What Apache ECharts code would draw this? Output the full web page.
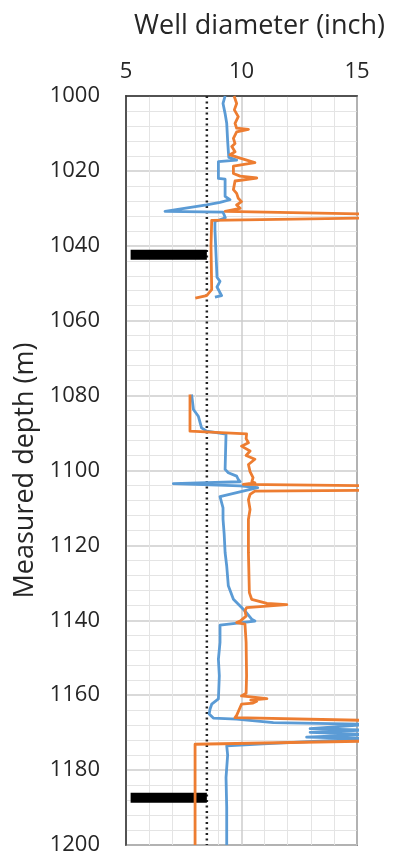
<!DOCTYPE html>
<html>
<head>
<meta charset="utf-8">
<script src="https://cdn.jsdelivr.net/npm/echarts@6/dist/echarts.min.js"></script>
<style>
    html, body { margin: 0; padding: 0; background: #fff; }
    #wellChart { width: 393px; height: 856px; }
</style>
</head>
<body>
<div id="wellChart"></div>
<script>
// depth (m) / diameter (inch) read off the log, null = no data
const blueDepth = [1000, 1002, 1004.7, 1007.3, 1012, 1014.7, 1016.4, 1017.1, 1017.5, 1022, 1022.2, 1026.8, 1027.7, 1028.4, 1029.1, 1030.8, 1031, 1032.5, 1033.5, 1035.6, 1042.8, 1048.4, 1049.5, 1051, 1053.3, 1053.7,
    null,
    1079.7, 1083.7, 1085.5, 1088.6, 1089.5, 1090, 1090.3, 1099.7, 1100.6, 1101.5, 1102.4, 1103, 1103.5, 1104.1, 1104.6, 1107, 1107.5, 1110, 1113, 1117, 1121.9, 1125.5, 1130.8, 1134.4, 1136.2, 1137.5, 1139.7, 1140.2, 1140.6, 1141.3, 1145.9, 1150.4, 1154.8, 1161, 1162.4, 1163.7, 1165, 1166.1, 1166.4, 1167.3, 1167.8, 1168.9, 1169.3, 1169.9, 1170.5, 1171.2, 1171.6, 1173, 1173.5, 1176, 1182, 1190, 1200];
const blueDiam = [9.29, 9.2, 9.29, 9.36, 9.4, 9.43, 9.45, 9.79, 9.0, 9.0, 9.29, 9.29, 9.5, 9.07, 8.49, 6.69, 9.2, 9.3, 8.85, 8.85, 8.9, 8.94, 9.07, 8.94, 9.14, 8.85,
    null,
    7.84, 7.92, 8.13, 8.27, 8.49, 8.5, 9.33, 9.29, 9.43, 9.79, 9.86, 9.94, 7.05, 9.94, 10.7, 9.07, 9.14, 9.2, 9.2, 9.25, 9.29, 9.36, 9.43, 9.65, 9.94, 10.15, 10.44, 10.58, 10.5, 9.07, 9.07, 9.0, 9.04, 9.0, 8.71, 8.64, 8.6, 8.78, 9.79, 11.38, 15.5, 12.97, 15.5, 12.97, 15.5, 12.82, 15.5, 10.94, 9.36, 9.4, 9.33, 9.36, 9.36];

const orangeDepth = [1000, 1002, 1003.7, 1005.5, 1007.3, 1008.6, 1008.9, 1009.6, 1011.3, 1012.7, 1013.5, 1014.9, 1015.7, 1016.6, 1017.8, 1018.7, 1020.7, 1021.4, 1021.9, 1022.7, 1025, 1026, 1027.3, 1028.2, 1029.1, 1030, 1030.8, 1031.6, 1032.5, 1033.2, 1040, 1051.7, 1053.3, 1054,
    null,
    1079.7, 1089.5, 1090, 1090.2, 1091.5, 1092.6, 1093.5, 1094.8, 1096, 1097, 1098.4, 1100.3, 1101.9, 1103, 1103.3, 1103.7, 1104.1, 1105.3, 1105.5, 1106.4, 1107.8, 1110.4, 1113, 1122, 1132.6, 1134.4, 1135.5, 1135.8, 1136.6, 1137.5, 1138.9, 1140.2, 1140.6, 1141, 1145.9, 1154.8, 1159.5, 1160.2, 1160.9, 1161.3, 1161.6, 1162.1, 1162.4, 1162.8, 1165.4, 1166, 1166.8, 1172.2, 1173.1, 1200];
const orangeDiam = [9.68, 9.79, 9.69, 9.86, 9.72, 9.79, 10.3, 9.79, 9.65, 9.72, 9.58, 9.72, 9.5, 9.94, 10.58, 9.65, 9.65, 9.94, 10.66, 9.72, 9.65, 9.79, 9.86, 10.0, 9.79, 9.94, 9.29, 16, 16, 8.71, 8.68, 8.71, 8.49, 8.0,
    null,
    7.77, 7.77, 7.84, 10.22, 10.2, 10.3, 10.0, 10.37, 10.2, 10.58, 10.3, 10.37, 10.5, 10.45, 10.58, 10.08, 16, 16, 10.58, 10.37, 10.3, 10.37, 10.3, 10.3, 10.34, 10.44, 11.1, 11.96, 10.22, 10.15, 10.2, 9.94, 9.79, 10.15, 10.2, 10.22, 10.2, 10.0, 11.1, 10.4, 10.66, 10.5, 10.0, 9.94, 9.79, 9.72, 16, 16, 7.99, 7.99];

// reference diameter (dotted) and the two black markers
const refDiam = 8.5;
const markerDepth = [1042.4, 1187.4];
const markerFrom = 5.2;

const xTicks = [5, 10, 15];
const depthRange = [1000, 1200];

function pairs (xs, ys) {
    return ys.map((y, i) => (y === null ? '-' : [xs[i], y]));
}

let chart = echarts.init(document.getElementById('wellChart'));
let font = '"Open Sans", "Noto Sans", sans-serif';
let textColor = '#262626';

let seriesArr = [];
markerDepth.forEach(d => {
    seriesArr.push({
        type: 'line',
        data: [[markerFrom, d], [refDiam, d]],
        symbol: 'none',
        silent: true,
        lineStyle: { color: '#000', width: 10, cap: 'butt' },
        z: 4
    });
});
seriesArr.push({
    type: 'line',
    data: [[refDiam, depthRange[0]], [refDiam, depthRange[1]]],
    symbol: 'none',
    silent: true,
    lineStyle: { color: '#222', width: 2.5, type: [2, 3.5] },
    z: 3
});
seriesArr.push({
    name: 'blue',
    type: 'line',
    data: pairs(blueDiam, blueDepth),
    symbol: 'none',
    connectNulls: false,
    lineStyle: { color: '#5B9BD5', width: 2.8, join: 'round' },
    z: 5
});
seriesArr.push({
    name: 'orange',
    type: 'line',
    data: pairs(orangeDiam, orangeDepth),
    symbol: 'none',
    connectNulls: false,
    lineStyle: { color: '#ED7D31', width: 2.8, join: 'round' },
    z: 6
});

const option = {
    animation: false,
    grid: {
        left: 126,
        right: 36,
        top: 96,
        bottom: 9,
        show: true,
        borderColor: '#333',
        borderWidth: 1.5
    },
    xAxis: {
        type: 'value',
        position: 'top',
        min: xTicks[0],
        max: xTicks[xTicks.length - 1],
        interval: 5,
        name: 'Well diameter (inch)',
        nameLocation: 'middle',
        nameGap: 56,
        nameTextStyle: { fontFamily: font, fontSize: 27, color: textColor, padding: [0, 0, 0, 36] },
        axisLine: { show: true, lineStyle: { color: '#333', width: 1.5 } },
        axisTick: { show: false },
        axisLabel: { fontFamily: font, fontSize: 22, color: textColor, margin: 13 },
        splitLine: { show: true, lineStyle: { color: '#cdcdcd', width: 1.5 } },
        minorTick: { show: false, splitNumber: 5 },
        minorSplitLine: { show: true, lineStyle: { color: '#e4e4e4', width: 1 } }
    },
    yAxis: {
        type: 'value',
        inverse: true,
        min: depthRange[0],
        max: depthRange[1],
        interval: 20,
        name: 'Measured depth (m)',
        nameLocation: 'middle',
        nameGap: 85,
        nameTextStyle: { fontFamily: font, fontSize: 27, color: textColor },
        axisLine: { show: true, lineStyle: { color: '#333', width: 1.5 } },
        axisTick: { show: false },
        axisLabel: {
            fontFamily: font, fontSize: 22, color: textColor, margin: 26,
            formatter: v => String(v)
        },
        splitLine: { show: true, lineStyle: { color: '#cdcdcd', width: 1.5 } },
        minorTick: { show: false, splitNumber: 5 },
        minorSplitLine: { show: true, lineStyle: { color: '#e4e4e4', width: 1 } }
    },
    series: seriesArr
};
chart.setOption(option);
</script>
</body>
</html>
